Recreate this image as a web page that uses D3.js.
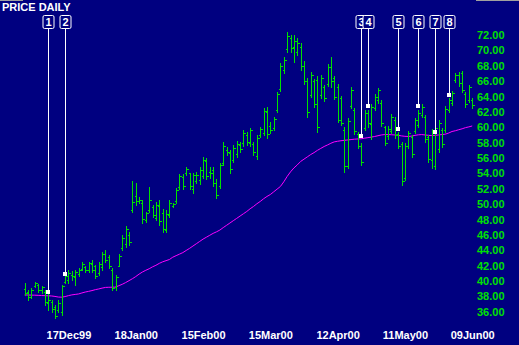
<!DOCTYPE html>
<html>
<head>
<meta charset="utf-8">
<script src="https://cdn.jsdelivr.net/npm/d3@7"></script>
<style>
  html, body { margin: 0; padding: 0; background: #000080; }
  svg { display: block; }
  text { font-family: "Liberation Sans", Arial, sans-serif; font-weight: bold; }
</style>
</head>
<body>
<div id="chart"></div>
<script>
// daily bars, index 0 = 30Nov99 ... 133 = 09Jun00
const high = [39.75,38.84,39.1,39.88,39.62,39.36,38.84,38.5,37.54,36.89,
  37.54,39.49,40.8,41.44,41.3,41.44,41.7,42.48,41.96,42.48,
  42.74,42.09,42.48,43.78,44.04,43.4,41.7,40.8,43.52,46.0,
  47.16,46.38,53.0,52.75,50.9,50.5,49.0,52.2,49.9,50.3,
  50.55,49.4,49.24,50.55,50.15,52.1,53.9,53.9,54.83,54.05,
  54.05,54.18,54.83,56.1,56.0,54.83,54.83,53.27,55.35,58.09,
  57.4,57.05,57.7,58.2,58.1,59.65,59.4,59.9,58.1,59.0,
  60.04,62.5,62.64,60.7,61.34,64.6,68.36,69.14,72.4,72.0,
  72.0,71.6,70.96,68.6,66.4,67.2,66.28,66.67,66.8,65.5,
  68.23,69.14,66.67,65.63,64.07,60.04,61.2,65.24,62.5,59.4,
  57.96,62.25,62.25,63.03,64.33,65.1,63.55,60.17,60.17,61.73,
  61.34,59.39,58.1,57.96,59.5,59.0,61.2,62.25,63.03,61.6,
  59.0,59.78,60.3,60.95,59.9,62.77,63.8,64.72,67.06,67.2,
  67.3,64.6,65.5,63.8];
const low = [38.19,37.54,37.8,39.23,38.58,38.45,36.89,36.24,35.98,35.2,
  35.98,35.59,39.75,39.75,40.1,39.49,40.66,41.44,41.18,41.18,
  41.18,40.4,40.79,41.44,42.48,41.7,38.84,38.84,41.96,44.04,
  44.43,44.69,48.98,49.9,50.15,47.6,47.7,48.98,48.3,47.9,
  47.3,46.4,46.38,48.33,49.63,50.15,51.97,51.97,53.8,51.97,
  51.45,52.75,52.6,53.4,53.27,53.4,52.36,50.8,52.1,55.1,
  56.4,54.05,55.5,56.1,56.8,57.57,57.7,57.57,56.4,55.87,
  58.74,59.0,58.6,59.26,59.65,61.99,64.72,67.06,69.8,69.8,
  68.5,69.4,67.45,65.6,61.34,63.94,62.64,59.4,63.8,63.4,
  65.37,65.24,63.68,60.69,60.3,54.18,54.7,62.5,59.13,57.3,
  55.1,59.65,60.04,58.48,62.25,63.16,60.17,57.7,58.48,59.26,
  58.6,57.3,52.5,53.1,57.3,56.14,59.26,60.04,61.34,58.09,
  55.5,54.7,54.57,56.8,57.44,59.4,62.0,62.9,65.9,65.37,
  64.6,62.64,63.3,62.5];
const open = [39.0,38.6,37.9,39.3,39.5,38.9,38.6,37.2,37.3,36.6,
  36.2,36.0,39.9,40.2,40.8,40.5,40.9,41.6,41.8,41.4,
  42.2,41.9,41.0,41.8,43.5,43.1,41.5,39.2,42.0,44.3,
  44.8,46.0,49.2,51.0,50.4,50.2,48.0,49.3,49.6,48.2,
  49.8,48.8,46.7,48.6,49.8,50.4,52.2,53.5,54.0,54.0,
  52.0,53.0,53.1,53.6,55.6,54.2,54.4,52.8,52.4,55.4,
  57.0,56.6,55.8,56.5,57.7,57.9,59.0,58.0,57.8,56.3,
  59.0,59.3,62.0,60.2,59.9,62.2,65.0,67.4,70.2,71.6,
  70.4,69.8,70.5,68.0,66.0,64.2,66.0,66.2,64.2,65.2,
  65.6,67.8,66.4,65.2,63.8,59.6,55.0,62.8,62.2,59.1,
  57.6,59.9,61.8,60.4,62.5,63.5,63.2,60.0,58.8,59.5,
  61.0,59.1,57.8,53.4,57.6,58.7,59.5,60.3,61.6,61.3,
  58.7,55.8,55.0,57.2,59.6,59.7,62.3,63.2,66.2,66.8,
  67.0,64.3,63.6,63.5];
const close = [38.4,37.9,38.9,39.7,38.8,39.2,37.3,37.5,36.3,35.5,
  37.2,39.3,40.6,41.1,40.6,41.2,41.5,42.2,41.4,42.3,
  41.5,40.7,42.2,43.5,42.8,41.9,39.1,40.5,43.3,45.6,
  46.8,45.1,50.3,50.4,50.6,48.1,48.8,50.6,48.6,49.9,
  47.8,46.8,48.7,50.2,50.0,51.8,53.6,52.3,54.6,52.3,
  53.8,53.8,54.5,55.7,53.7,54.0,52.7,51.2,55.1,57.6,
  56.8,54.6,57.3,57.8,57.2,59.2,58.1,59.6,56.8,58.6,
  59.8,62.1,59.1,59.6,61.1,64.3,68.0,68.8,71.9,70.3,
  71.2,70.9,68.0,66.0,62.0,66.8,63.0,60.0,66.4,63.8,
  67.9,66.0,64.0,61.0,60.6,55.0,60.8,64.8,59.5,57.6,
  55.5,61.9,60.6,62.6,64.0,64.8,60.5,58.0,59.8,61.4,
  59.0,57.6,53.0,57.5,59.2,56.5,60.9,61.9,62.7,58.5,
  55.9,59.3,59.9,60.5,57.8,62.4,63.5,64.4,66.8,65.8,
  64.9,63.0,65.2,62.9];
// moving average (magenta)
const movAvg = [38.19,38.18,38.17,38.16,38.14,38.12,38.10,38.08,38.06,38.0,
  37.92,37.9,37.98,38.1,38.2,38.26,38.32,38.45,38.57,38.66,
  38.76,38.88,38.97,39.08,39.17,39.19,39.2,39.22,39.4,39.58,
  39.8,40.05,40.3,40.58,40.9,41.18,41.4,41.6,41.85,42.05,
  42.3,42.5,42.65,42.8,43.1,43.3,43.5,43.7,43.98,44.25,
  44.55,44.85,45.15,45.45,45.7,45.95,46.2,46.4,46.63,46.95,
  47.25,47.55,47.85,48.15,48.45,48.75,49.05,49.4,49.7,50.05,
  50.35,50.7,51.0,51.25,51.6,51.95,52.3,52.9,53.6,54.2,
  54.7,55.1,55.55,55.85,56.15,56.45,56.7,57.0,57.25,57.5,
  57.7,57.92,58.1,58.18,58.25,58.3,58.35,58.4,58.45,58.48,
  58.5,58.58,58.65,58.72,58.8,58.9,59.0,59.05,59.05,59.03,
  59.0,58.95,58.88,58.82,58.8,58.85,58.95,59.02,59.05,59.0,
  58.95,58.92,58.95,59.0,59.05,59.1,59.25,59.45,59.55,59.68,
  59.8,59.95,60.05,60.17];

const markerLabels = ['1', '2', '3', '4', '5', '6', '7', '8'];
const markerIndex = [7, 12, 100, 102, 111, 117, 122, 126];
const markerPrice = [38.6, 40.9, 58.87, 62.77, 59.78, 62.77, 59.39, 64.2];

const dateLabels = ['17Dec99', '18Jan00', '15Feb00', '15Mar00', '12Apr00', '11May00', '09Jun00'];
const dateIndex = [13, 33, 53, 73, 93, 113, 133];
const priceTicks = d3.range(36, 73, 2);

const width = 519;
const height = 345;
const green = '#00e000';

const x = d3.scaleLinear().domain([0, 133]).range([24.7, 472.2]);
const y = d3.scaleLinear().domain([36, 72]).range([311.8, 35]);
const px = v => Math.round(v) + 0.5;

const svg = d3.select('#chart')
    .append('svg')
    .attr('width', width)
    .attr('height', height);

svg.append('rect').attr('width', width).attr('height', height).attr('fill', '#000080');
svg.append('rect').attr('x', 0).attr('y', 0).attr('width', 23).attr('height', 1).attr('fill', '#a0a0a0');
svg.append('rect').attr('x', 476).attr('y', 0).attr('width', 43).attr('height', 1).attr('fill', '#a0a0a0');

svg.append('text')
    .attr('x', 2)
    .attr('y', 11)
    .attr('fill', '#fff')
    .style('font-size', '11px')
    .text('PRICE DAILY');

// price axis on the right
const yAxis = d3.axisRight(y)
    .tickValues(priceTicks)
    .tickSize(0)
    .tickPadding(0)
    .tickFormat(d3.format('.2f'));

svg.append('g')
    .attr('transform', 'translate(477,0)')
    .call(yAxis)
    .call(g => g.select('.domain').remove())
    .call(g => g.selectAll('text')
        .attr('fill', green)
        .style('font-size', '11px')
        .style('font-family', '"Liberation Sans", Arial, sans-serif')
        .style('font-weight', 'bold'));

const xAxis = d3.axisBottom(x)
    .tickValues(dateIndex)
    .tickSize(0)
    .tickPadding(3)
    .tickFormat((d, i) => dateLabels[i]);

svg.append('g')
    .attr('transform', 'translate(0,328)')
    .call(xAxis)
    .call(g => g.select('.domain').remove())
    .call(g => g.selectAll('text')
        .attr('fill', '#fff')
        .style('font-size', '11px')
        .style('font-family', '"Liberation Sans", Arial, sans-serif')
        .style('font-weight', 'bold'));

// moving average
const maLine = d3.line()
    .x((d, i) => x(i))
    .y(d => y(d));

svg.append('path')
    .datum(movAvg)
    .attr('d', maLine)
    .attr('fill', 'none')
    .attr('stroke', '#ff00ff')
    .attr('stroke-width', 1);

// OHLC bars
svg.append('g')
    .attr('stroke', green)
    .attr('stroke-width', 1)
    .attr('shape-rendering', 'crispEdges')
    .selectAll('path')
    .data(high.map((h, i) => ({ i, h, l: low[i], o: open[i], c: close[i] })))
    .join('path')
    .attr('fill', 'none')
    .attr('d', d => {
        const cx = px(x(d.i));
        const yo = px(y(d.o));
        const yc = px(y(d.c));
        return `M${cx},${Math.round(y(d.h))}V${Math.round(y(d.l)) + 1}` +
            `M${cx - 2},${yo}H${cx}M${cx},${yc}H${cx + 2}`;
    });

// signal markers
const markers = svg.append('g');
markerLabels.forEach((lab, k) => {
    const cx = px(x(markerIndex[k]));
    const my = Math.round(y(markerPrice[k]));
    markers.append('line')
        .attr('x1', cx).attr('x2', cx)
        .attr('y1', 29).attr('y2', my)
        .attr('stroke', '#fff')
        .attr('shape-rendering', 'crispEdges');
    markers.append('rect')
        .attr('x', cx - 2.5).attr('y', my - 2)
        .attr('width', 4).attr('height', 4)
        .attr('fill', '#fff');
    markers.append('rect')
        .attr('x', cx - 5.5).attr('y', 15.5)
        .attr('width', 11).attr('height', 13)
        .attr('rx', 1.5)
        .attr('fill', '#000080')
        .attr('stroke', '#fff');
    markers.append('text')
        .attr('x', cx)
        .attr('y', 26)
        .attr('text-anchor', 'middle')
        .attr('fill', '#fff')
        .style('font-size', '11px')
        .text(lab);
});
</script>
</body>
</html>
